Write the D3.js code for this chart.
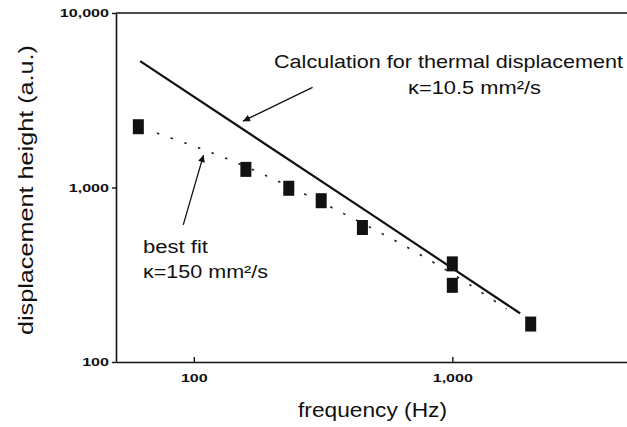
<!DOCTYPE html>
<html>
<head>
<meta charset="utf-8">
<script src="https://cdn.jsdelivr.net/npm/d3@7"></script>
<style>
  body { margin: 0; background: #fff; }
  svg { display: block; }
  text { font-family: "Liberation Sans", Arial, sans-serif; fill: #111; }
</style>
</head>
<body>
<div id="chart"></div>
<script>
// tick values
const freqTicks = [100, 1000];
const heightTicks = [100, 1000, 10000];

// measured displacement (squares)
const measFreq = [61, 159, 233, 311, 449, 1000, 1000, 2010];
const measHeight = [2230, 1270, 990, 840, 590, 365, 275, 165];

// calculation for thermal displacement, kappa = 10.5 mm2/s (solid)
const calcFreq = [62, 480, 1830];
const calcHeight = [5300, 710, 190];

// best fit, kappa = 150 mm2/s (dotted)
const fitFreq = [72, 141, 350, 875, 1620];
const fitHeight = [2050, 1420, 753, 361, 202];

// annotation arrows [tailFreq, tailHeight, tipFreq, tipHeight]
const arrowCalc = [288, 3750, 155, 2400];
const arrowFit = [91, 611, 109, 1534];

const width = 627, height = 427;
const svg = d3.select('#chart').append('svg')
    .attr('width', width)
    .attr('height', height);

const x = d3.scaleLog().domain([50, 5000]).range([116, 633]);
const y = d3.scaleLog().domain([100, 10000]).range([362, 13]);

const fmt = d3.format(',');

// stretch a text element horizontally by factor k (scan looks wide)
function stretch(sel, k) {
    sel.each(function () {
        let w = this.getComputedTextLength();
        d3.select(this).attr('textLength', w * k).attr('lengthAdjust', 'spacingAndGlyphs');
    });
}

svg.append('defs').append('marker')
    .attr('id', 'head')
    .attr('viewBox', '0 0 10 10')
    .attr('refX', 10).attr('refY', 5)
    .attr('markerWidth', 9).attr('markerHeight', 7)
    .attr('markerUnits', 'userSpaceOnUse')
    .attr('orient', 'auto')
    .append('path')
    .attr('d', 'M0,0 L10,5 L0,10 Z')
    .attr('fill', '#111');

// axes
let gx = svg.append('g')
    .attr('transform', 'translate(0,' + y(100) + ')')
    .call(d3.axisBottom(x).tickValues(freqTicks).tickFormat(fmt).tickSizeInner(-5).tickSizeOuter(0).tickPadding(12));
let gy = svg.append('g')
    .attr('transform', 'translate(' + x(50) + ',0)')
    .call(d3.axisLeft(y).tickValues(heightTicks).tickFormat(fmt).tickSizeInner(4).tickSizeOuter(0).tickPadding(3));

[gx, gy].forEach(function (g) {
    g.select('.domain').attr('stroke', '#111').attr('stroke-width', 1.6);
    g.selectAll('.tick line').attr('stroke', '#111').attr('stroke-width', 1.4);
    g.selectAll('.tick text')
        .attr('font-family', '"Liberation Sans", Arial, sans-serif')
        .attr('font-size', 11.5)
        .attr('font-weight', 'bold')
        .attr('fill', '#111');
});
gx.selectAll('.tick text').attr('dy', '0.71em');
stretch(gx.selectAll('.tick text'), 1.4);
stretch(gy.selectAll('.tick text'), 1.4);

// top frame line
svg.append('line')
    .attr('x1', x(50)).attr('x2', x(5000))
    .attr('y1', y(10000)).attr('y2', y(10000))
    .attr('stroke', '#111').attr('stroke-width', 1.6);

// calculation line
const calcLine = d3.line().curve(d3.curveMonotoneX)
    .x(function (d) { return x(d[0]); }).y(function (d) { return y(d[1]); });
svg.append('path')
    .datum(d3.zip(calcFreq, calcHeight))
    .attr('d', calcLine)
    .attr('fill', 'none')
    .attr('stroke', '#111')
    .attr('stroke-width', 2.2);

// best fit dotted
const fitLine = d3.line().curve(d3.curveMonotoneX)
    .x(function (d) { return x(d[0]); }).y(function (d) { return y(d[1]); });
svg.append('path')
    .datum(d3.zip(fitFreq, fitHeight))
    .attr('d', fitLine)
    .attr('fill', 'none')
    .attr('stroke', '#222')
    .attr('stroke-width', 1.6)
    .attr('stroke-dasharray', '2.5,12');

// measured squares
svg.append('g').selectAll('rect')
    .data(d3.zip(measFreq, measHeight))
    .join('rect')
    .attr('x', function (d) { return x(d[0]) - 5.5; })
    .attr('y', function (d) { return y(d[1]) - 7.5; })
    .attr('width', 11)
    .attr('height', 15)
    .attr('fill', '#111');

// arrows
[arrowCalc, arrowFit].forEach(function (a) {
    svg.append('line')
        .attr('x1', x(a[0])).attr('y1', y(a[1]))
        .attr('x2', x(a[2])).attr('y2', y(a[3]))
        .attr('stroke', '#111')
        .attr('stroke-width', 1.3)
        .attr('marker-end', 'url(#head)');
});

// annotation text
function label(txt, px, py, size, len) {
    return svg.append('text')
        .attr('x', px).attr('y', py)
        .attr('font-size', size)
        .attr('textLength', len)
        .attr('lengthAdjust', 'spacingAndGlyphs')
        .text(txt);
}
label('Calculation for thermal displacement', 274, 68, 18.5, 349);
label('\u03ba=10.5 mm\u00b2/s', 408, 94, 18.5, 133);
label('best fit', 143, 253, 18, 65);
label('\u03ba=150 mm\u00b2/s', 143, 278, 18, 125);

// axis titles
label('frequency (Hz)', 298, 417, 19.5, 149);
svg.append('text')
    .attr('transform', 'translate(33,190) rotate(-90)')
    .attr('text-anchor', 'middle')
    .attr('font-size', 20)
    .attr('textLength', 290)
    .attr('lengthAdjust', 'spacingAndGlyphs')
    .text('displacement height (a.u.)');
</script>
</body>
</html>
